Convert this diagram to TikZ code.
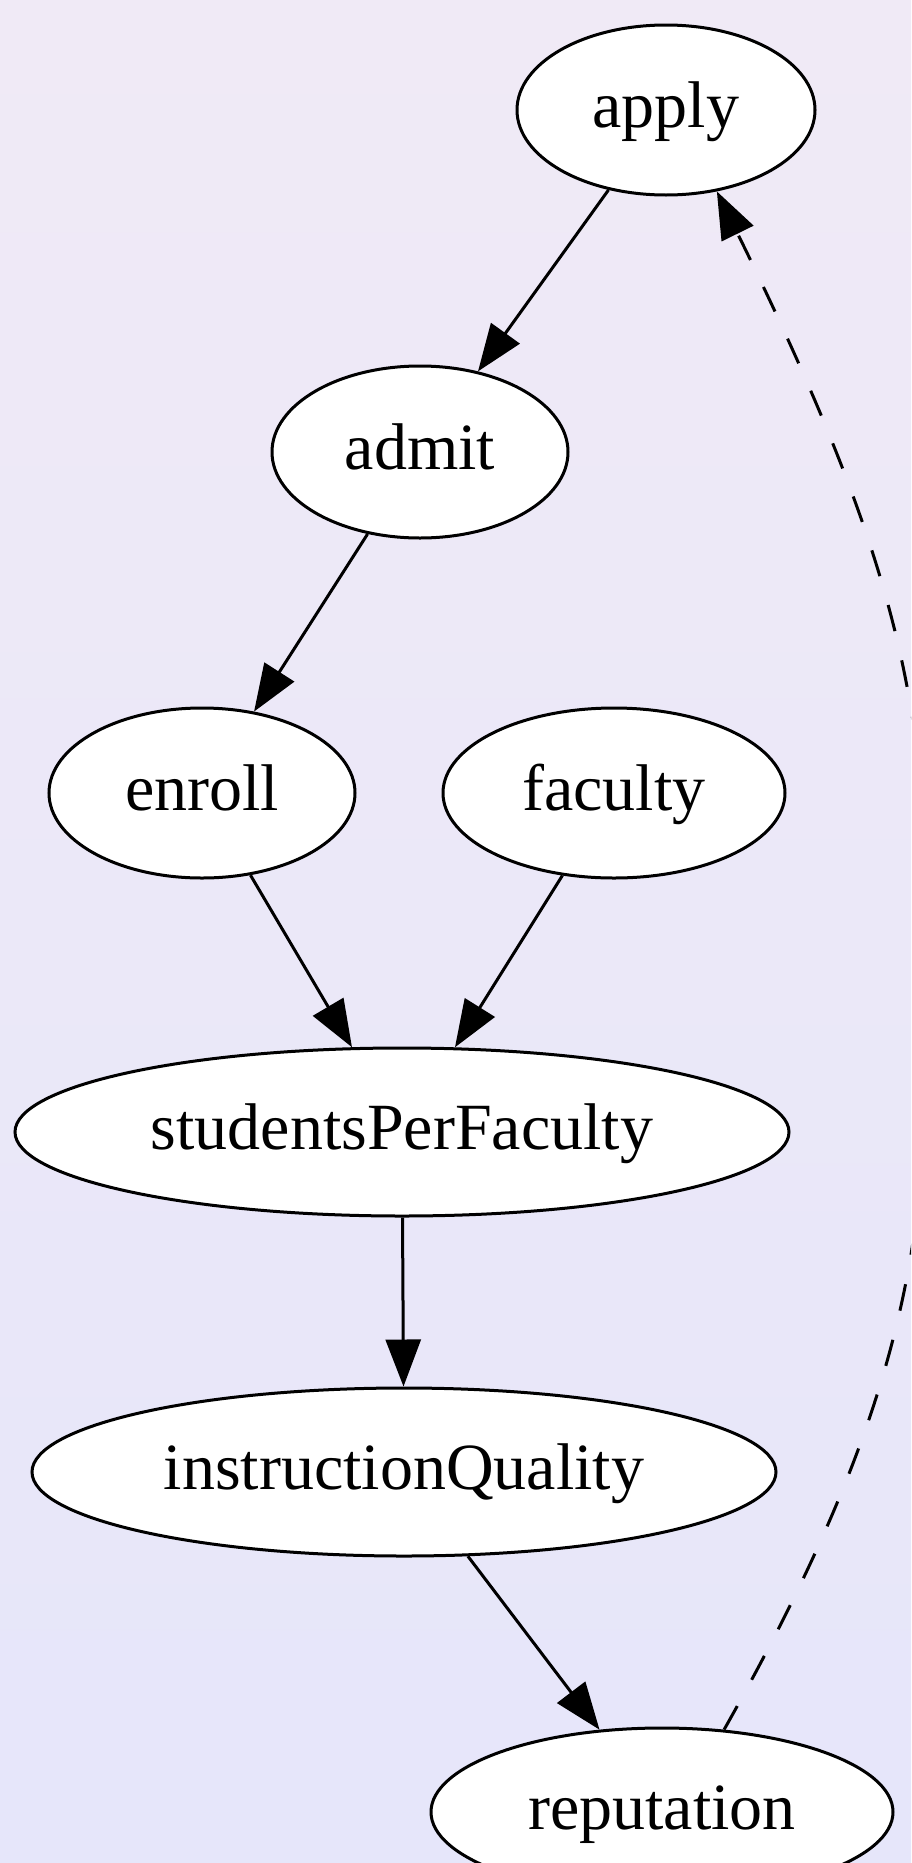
\documentclass[tikz,border=0pt]{standalone}
\usepackage{fontspec}
\setmainfont{Liberation Serif}
\usetikzlibrary{shapes.geometric,arrows.meta}
\definecolor{bgtop}{RGB}{240,234,246}
\definecolor{bgbot}{RGB}{230,230,250}
\tikzset{
  gnode/.style={ellipse, draw=black, fill=white, line width=3pt, inner sep=0pt,
    font=\fontsize{66}{70}\selectfont, text height=50pt, text depth=16pt},
  edge/.style={line width=3pt, -{Triangle[length=47pt,width=35pt]}},
  dashedge/.style={edge, dash pattern=on 27pt off 30pt}
}
\begin{document}
\begin{tikzpicture}[x=1pt,y=-1pt]
\useasboundingbox (0,0) rectangle (911,1863);
\shade[top color=bgtop, bottom color=bgbot] (0,0) rectangle (911,1863);
\clip (0,0) rectangle (911,1863);
\node[gnode, minimum width=298pt, minimum height=170pt] (apply) at (666,110) {apply};
\node[gnode, minimum width=296pt, minimum height=172pt] (admit) at (420,452) {admit};
\node[gnode, minimum width=306pt, minimum height=170pt] (enroll) at (202,793) {enroll};
\node[gnode, minimum width=342pt, minimum height=170pt] (faculty) at (614,793) {faculty};
\node[gnode, minimum width=774pt, minimum height=168pt] (spf) at (402,1132) {studentsPerFaculty};
\node[gnode, minimum width=744pt, minimum height=168pt] (iq) at (404,1472) {instructionQuality};
\node[gnode, minimum width=462pt, minimum height=168pt] (rep) at (662,1812) {reputation};
\coordinate (peak) at (928,966);
\draw[edge] (apply) -- (admit);
\draw[edge] (admit) -- (enroll);
\draw[edge] (enroll) -- (spf);
\draw[edge] (faculty) -- (spf);
\draw[edge] (spf) -- (iq);
\draw[edge] (iq) -- (rep);
\draw[dashedge] (rep.53) .. controls (921,1381) and (928,1216) .. (peak)
  .. controls (928,716) and (905,574) .. (apply.-58);
\end{tikzpicture}
\end{document}
